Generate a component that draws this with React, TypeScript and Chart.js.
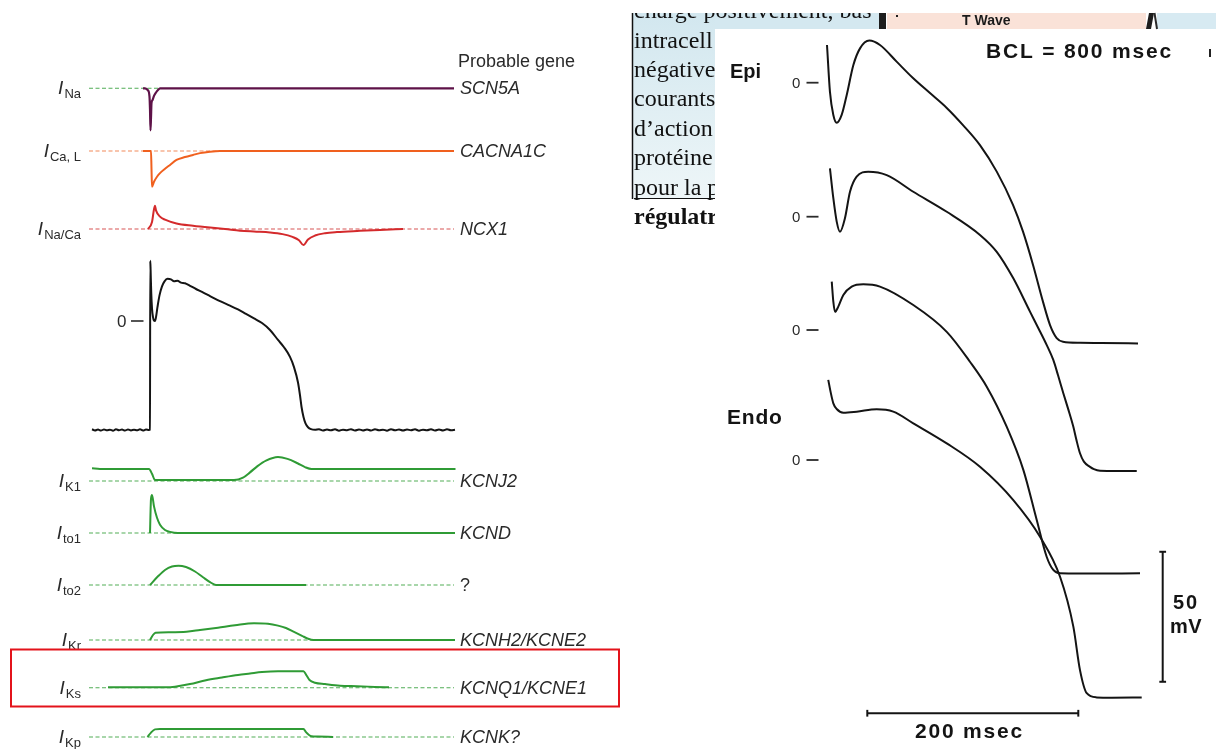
import { useEffect, useRef } from "react";
import { Chart, registerables } from "chart.js";

Chart.register(...registerables);

const W = 1216;
const H = 749;

// ---------- Left figure: membrane currents during one ventricular beat ----------
// time: ms after the upstroke; currents in relative units (peak = ±1)
const INA_T = [-14, -10, -4, -1, 0, 1, 2, 3, 5, 8, 12, 16, 20, 608];
const INA_V = [0, 0, -0.05, -0.2, -0.5, -1, -0.7, -0.35, -0.28, -0.18, -0.1, -0.04, 0, 0];

const ICA_T = [-14, 2, 3, 4, 8, 14, 20, 30, 40, 53, 70, 86, 100, 120, 140, 608];
const ICA_V = [0, 0, -0.5, -1, -0.86, -0.72, -0.62, -0.5, -0.39, -0.25, -0.17, -0.11, -0.06, -0.02, 0, 0];

const NCX_T = [-4, 4, 8, 10, 12, 20, 30, 53, 86, 120, 150, 180, 208, 240, 265, 285, 298, 307, 316, 330, 350, 374, 420, 460, 506];
const NCX_V = [0, 0.3, 0.85, 1.0, 0.8, 0.53, 0.4, 0.24, 0.14, 0.06, 0.0, -0.07, -0.11, -0.15, -0.22, -0.34, -0.48, -0.69, -0.45, -0.28, -0.18, -0.13, -0.08, -0.04, 0];

// action potential, mV
const AP_T = [
  -116, -110, -104, -98, -92, -86, -80, -74, -68, -62, -56, -50, -44, -38, -32, -26, -20, -14, -8, -2,
  0, 0.5, 1.2, 2.5, 4, 6, 8, 10, 12, 15, 19, 24, 29, 35, 42, 48, 55, 62, 70, 80, 92, 104, 120, 140,
  160, 176, 192, 208, 224, 240, 256, 268, 280, 288, 296, 300, 303, 307, 311, 316, 322, 330,
  338, 346, 354, 362, 370, 378, 386, 394, 402, 410, 418, 426, 434, 442, 450, 458, 466, 474, 482,
  490, 498, 506, 514, 522, 530, 538, 546, 554, 562, 570, 578, 586, 594, 602, 610,
];
const AP_MV = [
  -84.6, -85.5, -84.8, -85.6, -84.7, -85.4, -84.9, -85.7, -84.6, -85.3, -84.8, -85.6, -84.7, -85.5, -84.9, -85.4, -84.6, -85.6, -84.8, -85.2,
  -85, 47, 40, 22, 10, 3, 0.3, 0, 3, 11, 20, 27, 31, 33, 32.5, 31, 31.5, 30, 29.5, 27.5, 25, 22.7, 19.5, 15.5,
  12, 9, 5.5, 2, -1.6, -7, -14.8, -20.5, -28, -36, -48, -58, -67, -75, -80, -83, -84.5, -85,
  -84.5, -85.6, -84.8, -85.4, -84.6, -85.7, -84.9, -85.3, -84.5, -85.6, -84.7, -85.5, -84.8, -85.6, -84.6, -85.3, -84.9,
  -85.7, -84.5, -85.4, -84.7, -85.6, -84.8, -85.3, -84.6, -85.7, -84.9, -85.4, -84.5, -85.6, -84.8, -85.5, -84.6, -85.4, -84.9,
];

const IK1_T = [-116, -100, -2, 4, 10, 168, 186, 200, 215, 232, 256, 275, 295, 310, 323, 611];
const IK1_V = [0.53, 0.5, 0.5, 0.3, 0.04, 0.04, 0.14, 0.36, 0.62, 0.85, 1.0, 0.92, 0.74, 0.58, 0.5, 0.5];

const ITO1_T = [0, 2, 4, 8, 14, 20, 30, 40, 56, 610];
const ITO1_V = [0, 0.9, 1.0, 0.7, 0.4, 0.22, 0.08, 0.03, 0, 0];

const ITO2_T = [0, 16, 30, 44, 57, 72, 90, 106, 120, 132, 312];
const ITO2_V = [0, 0.45, 0.78, 0.96, 1.0, 0.93, 0.7, 0.4, 0.15, 0, 0];

const IKR_T = [0, 6, 11, 40, 73, 100, 136, 170, 208, 236, 256, 272, 287, 304, 316, 327, 610];
const IKR_V = [0, 0.3, 0.44, 0.47, 0.5, 0.6, 0.74, 0.88, 1.0, 0.97, 0.86, 0.72, 0.5, 0.25, 0.08, 0, 0];

const IKS_T = [-84, 33, 50, 80, 112, 144, 176, 200, 224, 256, 307, 312, 319, 330, 350, 380, 414, 450, 478];
const IKS_V = [0.02, 0.02, 0.06, 0.22, 0.46, 0.62, 0.77, 0.86, 0.95, 1.0, 1.0, 0.8, 0.47, 0.3, 0.22, 0.12, 0.09, 0.05, 0.02];

const IKP_T = [-5, 2, 10, 20, 307, 312, 318, 323, 336, 366];
const IKP_V = [0, 0.55, 0.95, 1.0, 1.0, 0.6, 0.25, 0.1, 0.05, 0];

// zero-current reference span (ms)
const REF_SPAN = [-122, 608];

// ---------- Right figure: action potentials from epicardium to endocardium ----------
// time: ms after stimulus; membrane potential: mV
const EPI_T = [0, 2.8, 6, 9.2, 13.9, 18.7, 25, 31.3, 40.1, 50.2, 66, 81.5, 97.6, 113.5, 128.9, 145, 160.9, 176.3, 185.8, 195.3, 204.7, 211.4, 217.7, 223.7, 240, 260, 294.8];
const EPI_MV = [14.5, -3.5, -12.4, -15.4, -12.4, -4.7, 6.8, 13.2, 16.2, 14.5, 8.1, 1.8, -4.0, -9.7, -16.3, -24, -34.2, -47, -57.3, -70.1, -84.2, -93.2, -98.2, -99.6, -100, -100.1, -100.3];

const SUBEPI_T = [2.8, 6, 9.2, 12.3, 17, 21.8, 28.1, 39.1, 56.6, 81.8, 113.5, 145, 160.9, 176.6, 192.4, 200, 208.2, 214.5, 219, 224, 229, 233.5, 236.5, 239.8, 243.5, 249.3, 253, 258.8, 275, 293.6];
const SUBEPI_MV = [18.6, 7.1, -1.9, -5.8, -0.6, 9.6, 15.4, 17.3, 16.0, 9.6, 1.9, -7.0, -13.5, -23.7, -36.5, -42.6, -49.3, -55.1, -61, -67.9, -74.5, -80.8, -86, -91, -94.2, -96.2, -97.1, -97.7, -97.8, -97.8];

const MID_T = [4.5, 6, 7.6, 10.7, 15.5, 23.4, 34.4, 50.2, 81.8, 113.5, 135.5, 151.4, 170.3, 186.1, 198.8, 208.2, 214.5, 220.9, 240, 296.7];
const MID_MV = [18.6, 10.9, 7.0, 9.0, 13.5, 16.7, 17.6, 16.7, 9.6, -0.7, -12.2, -21.8, -37.2, -53.8, -73.1, -87.2, -92.3, -93.6, -93.7, -93.6];

const ENDO_T = [1.2, 3.5, 6, 9.2, 15.5, 28.2, 47.1, 62.8, 81.8, 113.5, 145, 176.6, 201.9, 220.9, 233.5, 239.8, 246.2, 255.6, 270, 298.3];
const ENDO_MV = [30.8, 26, 21.8, 19.6, 18.2, 18.6, 19.5, 18.6, 14.1, 6.4, -2.6, -15.4, -29.5, -44.9, -64.1, -80.8, -89.7, -91.3, -91.4, -91.3];

// calibration bars
const BAR_MS = 200;
const BAR_MV = 50;

// ---------- layout ----------
const LEFT_ZERO_PX = 150;
const LEFT_PX_PER_MS = 0.5;
const RIGHT_ZERO_PX = 827;
const RIGHT_PX_PER_MS = 1.055;
const RIGHT_PX_PER_MV = 2.6;

type Row = { id: string; base: number; gain: number; sub?: string; gene?: string };
const LEFT_ROWS: Row[] = [
  { id: "yNa", base: 88.3, gain: 42, sub: "Na", gene: "SCN5A" },
  { id: "yCa", base: 151, gain: 35.7, sub: "Ca, L", gene: "CACNA1C" },
  { id: "yNCX", base: 229, gain: 23.3, sub: "Na/Ca", gene: "NCX1" },
  { id: "yAP", base: 321, gain: 1.28 },
  { id: "yK1", base: 481, gain: 24, sub: "K1", gene: "KCNJ2" },
  { id: "yTo1", base: 533, gain: 38, sub: "to1", gene: "KCND" },
  { id: "yTo2", base: 585, gain: 19.3, sub: "to2", gene: "?" },
  { id: "yKr", base: 640, gain: 16.7, sub: "Kr", gene: "KCNH2/KCNE2" },
  { id: "yKs", base: 687.7, gain: 16.4, sub: "Ks", gene: "KCNQ1/KCNE1" },
  { id: "yKp", base: 737, gain: 8, sub: "Kp", gene: "KCNK?" },
];
const RIGHT_ROWS: Row[] = [
  { id: "yE1", base: 82.7, gain: RIGHT_PX_PER_MV },
  { id: "yE2", base: 216.7, gain: RIGHT_PX_PER_MV },
  { id: "yE3", base: 330, gain: RIGHT_PX_PER_MV },
  { id: "yE4", base: 460, gain: RIGHT_PX_PER_MV },
];

const PURPLE = "#5e1248";
const ORANGE = "#f0601e";
const RED = "#d42a2c";
const GREEN = "#2f9b35";
const GREEN_REF = "#52ad57";
const ORANGE_REF = "#f1895a";
const RED_REF = "#d85555";
const INK = "#141414";

const SANS = '"Liberation Sans", Arial, Helvetica, sans-serif';
const SERIF = '"Liberation Serif", "Times New Roman", serif';

const pts = (t: number[], v: number[]) => t.map((x, i) => ({ x, y: v[i] }));

function trace(t: number[], v: number[], color: string, xAxisID: string, yAxisID: string, width = 2) {
  return {
    data: pts(t, v),
    borderColor: color,
    borderWidth: width,
    pointRadius: 0,
    fill: false,
    cubicInterpolationMode: "monotone" as const,
    xAxisID,
    yAxisID,
    order: 0,
  };
}

function reference(from: number, to: number, color: string, yAxisID: string) {
  return {
    data: [
      { x: from, y: 0 },
      { x: to, y: 0 },
    ],
    borderColor: color,
    borderWidth: 1.1,
    borderDash: [4, 2.5],
    pointRadius: 0,
    fill: false,
    xAxisID: "xL",
    yAxisID,
    order: 1,
  };
}

function segment(a: { x: number; y: number }, b: { x: number; y: number }) {
  return {
    data: [a, b],
    borderColor: INK,
    borderWidth: 2,
    pointRadius: 0,
    fill: false,
    xAxisID: "xR",
    yAxisID: "yE4",
    order: 0,
  };
}

function buildScales() {
  const scales: Record<string, any> = {};
  scales.xL = {
    type: "linear",
    axis: "x",
    display: false,
    min: -LEFT_ZERO_PX / LEFT_PX_PER_MS,
    max: (W - LEFT_ZERO_PX) / LEFT_PX_PER_MS,
  };
  scales.xR = {
    type: "linear",
    axis: "x",
    display: false,
    min: -RIGHT_ZERO_PX / RIGHT_PX_PER_MS,
    max: (W - RIGHT_ZERO_PX) / RIGHT_PX_PER_MS,
  };
  for (const r of [...LEFT_ROWS, ...RIGHT_ROWS]) {
    scales[r.id] = {
      type: "linear",
      axis: "y",
      display: false,
      min: (r.base - H) / r.gain,
      max: r.base / r.gain,
    };
  }
  return scales;
}

function buildDatasets() {
  const ds: any[] = [];
  // zero-current references
  ds.push(reference(REF_SPAN[0], 20, GREEN_REF, "yNa"));
  ds.push(reference(REF_SPAN[0], 140, ORANGE_REF, "yCa"));
  ds.push(reference(REF_SPAN[0], REF_SPAN[1], RED_REF, "yNCX"));
  for (const id of ["yK1", "yTo1", "yTo2", "yKr", "yKs", "yKp"]) {
    ds.push(reference(REF_SPAN[0], REF_SPAN[1], GREEN_REF, id));
  }
  // currents
  ds.push(trace(INA_T, INA_V, PURPLE, "xL", "yNa", 2.2));
  ds.push(trace(ICA_T, ICA_V, ORANGE, "xL", "yCa", 2));
  ds.push(trace(NCX_T, NCX_V, RED, "xL", "yNCX", 2));
  ds.push(trace(AP_T, AP_MV, INK, "xL", "yAP", 2));
  ds.push(trace(IK1_T, IK1_V, GREEN, "xL", "yK1", 2));
  ds.push(trace(ITO1_T, ITO1_V, GREEN, "xL", "yTo1", 2));
  ds.push(trace(ITO2_T, ITO2_V, GREEN, "xL", "yTo2", 2));
  ds.push(trace(IKR_T, IKR_V, GREEN, "xL", "yKr", 2));
  ds.push(trace(IKS_T, IKS_V, GREEN, "xL", "yKs", 2));
  ds.push(trace(IKP_T, IKP_V, GREEN, "xL", "yKp", 2));
  // transmural action potentials
  ds.push(trace(EPI_T, EPI_MV, INK, "xR", "yE1", 2));
  ds.push(trace(SUBEPI_T, SUBEPI_MV, INK, "xR", "yE2", 2));
  ds.push(trace(MID_T, MID_MV, INK, "xR", "yE3", 2));
  ds.push(trace(ENDO_T, ENDO_MV, INK, "xR", "yE4", 2));
  // time calibration bar
  const t0 = 38.2;
  const yT = -97.4;
  ds.push(segment({ x: t0, y: yT }, { x: t0 + BAR_MS, y: yT }));
  ds.push(segment({ x: t0, y: yT - 1.3 }, { x: t0, y: yT + 1.3 }));
  ds.push(segment({ x: t0 + BAR_MS, y: yT - 1.3 }, { x: t0 + BAR_MS, y: yT + 1.3 }));
  // voltage calibration bar
  const tV = 318.2;
  const vTop = -35.3;
  ds.push(segment({ x: tV, y: vTop }, { x: tV, y: vTop - BAR_MV }));
  ds.push(segment({ x: tV - 3.2, y: vTop }, { x: tV + 3.2, y: vTop }));
  ds.push(segment({ x: tV - 3.2, y: vTop - BAR_MV }, { x: tV + 3.2, y: vTop - BAR_MV }));
  return ds;
}

function spacedText(c: CanvasRenderingContext2D, text: string, x: number, y: number, spacing: number) {
  (c as any).letterSpacing = `${spacing}px`;
  c.fillText(text, x, y);
  (c as any).letterSpacing = "0px";
}

const decor = {
  id: "decor",
  beforeDatasetsDraw(chart: any) {
    const c: CanvasRenderingContext2D = chart.ctx;
    c.save();
    // French paragraph fragment on its light-blue box
    const g = c.createLinearGradient(0, 13, 0, 200);
    g.addColorStop(0, "#d2e7ef");
    g.addColorStop(1, "#eef6f8");
    c.fillStyle = g;
    c.fillRect(632, 13, 83, 186);
    c.fillStyle = "#d4e8f0";
    c.fillRect(715, 13, 165, 16);
    c.fillStyle = "#fae2d8";
    c.fillRect(887, 13, 259, 16);
    c.fillStyle = "#d7eaf2";
    c.fillRect(1157, 13, 59, 16);
    c.fillStyle = "#1d1d1d";
    c.fillRect(879, 13, 7, 16);
    c.beginPath();
    c.moveTo(1146, 29);
    c.lineTo(1149, 13);
    c.lineTo(1154, 13);
    c.lineTo(1151, 29);
    c.closePath();
    c.fill();
    c.strokeStyle = "#2a2a2a";
    c.lineWidth = 2;
    c.beginPath();
    c.moveTo(1154.5, 13);
    c.lineTo(1157, 29);
    c.stroke();
    c.fillRect(896, 15, 2, 2);

    c.font = `bold 14px "Liberation Sans Narrow", ${SANS}`;
    c.textBaseline = "middle";
    c.fillStyle = "#1a1a1a";
    c.fillText("T Wave", 962, 21);

    c.save();
    c.beginPath();
    c.rect(632, 13, 247, 16);
    c.rect(632, 29, 83, 205);
    c.clip();
    c.fillStyle = "#111";
    c.textBaseline = "alphabetic";
    c.font = `24px ${SERIF}`;
    c.fillText("charge positivement, bas", 634, 18);
    const lines = ["intracell", "négative", "courants", "d’action", "protéine", "pour la p"];
    lines.forEach((s, i) => c.fillText(s, 634, 47.5 + i * 29.4));
    c.font = `bold 24px ${SERIF}`;
    c.fillText("régulatri", 634, 224);
    c.restore();
    // underline and left rule of the box
    c.strokeStyle = "#111";
    c.lineWidth = 1.2;
    c.beginPath();
    c.moveTo(634, 198.5);
    c.lineTo(715, 198.5);
    c.stroke();
    c.lineWidth = 1.5;
    c.beginPath();
    c.moveTo(632.5, 13);
    c.lineTo(632.5, 199);
    c.stroke();
    c.fillStyle = "#222";
    c.fillRect(1209, 49, 2, 8);
    c.restore();
  },
  afterDatasetsDraw(chart: any) {
    const c: CanvasRenderingContext2D = chart.ctx;
    const xL = chart.scales.xL;
    c.save();
    c.fillStyle = "#2a2a2a";
    c.textAlign = "left";
    c.textBaseline = "middle";
    c.font = `18px ${SANS}`;
    c.fillText("Probable gene", 458, 62);

    const geneX = xL.getPixelForValue(620);
    for (const r of LEFT_ROWS) {
      const y = chart.scales[r.id].getPixelForValue(0);
      if (!r.sub) continue;
      c.font = `italic 19px ${SANS}`;
      const wI = c.measureText("I").width;
      c.font = `13px ${SANS}`;
      const wS = c.measureText(r.sub).width;
      const x0 = 81 - wS - wI - 1;
      c.textBaseline = "alphabetic";
      c.font = `italic 19px ${SANS}`;
      c.fillText("I", x0, y + 6);
      c.font = `13px ${SANS}`;
      c.fillText(r.sub, x0 + wI + 1, y + 10);
      c.textBaseline = "middle";
      c.font = r.gene === "?" ? `18px ${SANS}` : `italic 18px ${SANS}`;
      c.fillText(r.gene || "", geneX, y + 1);
    }

    // zero mark of the left action potential
    const yAP0 = chart.scales.yAP.getPixelForValue(0);
    c.font = `17px ${SANS}`;
    c.fillText("0", 117, yAP0 + 1);
    c.strokeStyle = "#2a2a2a";
    c.lineWidth = 1.6;
    c.beginPath();
    c.moveTo(131, yAP0);
    c.lineTo(143.5, yAP0);
    c.stroke();

    // right figure annotations
    c.fillStyle = INK;
    c.font = `bold 20px ${SANS}`;
    c.fillText("Epi", 730, 72);
    c.font = `bold 21px ${SANS}`;
    spacedText(c, "Endo", 727, 418, 0.8);
    spacedText(c, "BCL = 800 msec", 986, 52, 1.8);
    spacedText(c, "200 msec", 915, 732, 1.8);
    c.font = `bold 20px ${SANS}`;
    spacedText(c, "50", 1173, 603, 2);
    spacedText(c, "mV", 1170, 627, 0.5);

    c.font = `15px ${SANS}`;
    c.fillStyle = "#2a2a2a";
    c.strokeStyle = "#2a2a2a";
    c.lineWidth = 1.8;
    for (const r of RIGHT_ROWS) {
      const y = chart.scales[r.id].getPixelForValue(0);
      c.fillText("0", 792, y + 1);
      c.beginPath();
      c.moveTo(806.5, y);
      c.lineTo(818.5, y);
      c.stroke();
    }

    // highlight frame around the slow delayed rectifier row
    c.strokeStyle = "#e3131b";
    c.lineWidth = 2;
    c.strokeRect(11, 649.5, 608, 57);
    c.restore();
  },
};

export default function App() {
  const canvasRef = useRef<HTMLCanvasElement | null>(null);

  useEffect(() => {
    if (!canvasRef.current) return;
    const chart = new Chart(canvasRef.current, {
      type: "line",
      data: { datasets: buildDatasets() },
      options: {
        animation: false,
        responsive: true,
        maintainAspectRatio: false,
        events: [],
        layout: { padding: 0 },
        plugins: {
          legend: { display: false },
          tooltip: { enabled: false },
          title: { display: false },
        },
        scales: buildScales(),
      },
      plugins: [decor],
    } as any);
    return () => chart.destroy();
  }, []);

  return (
    <div style={{ position: "fixed", left: 0, top: 0, width: W, height: H, background: "#fff" }}>
      <canvas ref={canvasRef} />
    </div>
  );
}
